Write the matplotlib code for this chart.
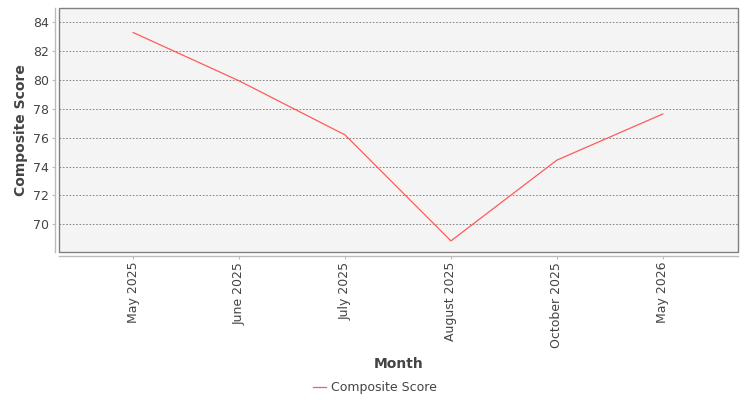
import matplotlib
matplotlib.use('Agg')
from matplotlib import pyplot as plt
from matplotlib.patches import Rectangle

months = ['May 2025', 'June 2025', 'July 2025', 'August 2025', 'October 2025', 'May 2026']
scores = [83.3, 79.95, 76.2, 68.85, 74.45, 77.65]
y_ticks = [70, 72, 74, 76, 78, 80, 82, 84]

plt.rcParams['font.family'] = 'DejaVu Sans'

fig = plt.figure(figsize=(7.5, 4), dpi=100)
ax = fig.add_axes([59 / 750, 1 - 252 / 400, 679 / 750, 244 / 400])
ax.set_facecolor('#f4f4f4')

x = list(range(len(months)))
ax.plot(x, scores, color='#ff5b5b', linewidth=0.9, label='Composite Score')

ax.set_xlim(-0.70, len(months) - 1 + 0.71)
ax.set_ylim(68.08, 85.0)

ax.set_yticks(y_ticks)
ax.set_xticks(x, months)
ax.yaxis.grid(True, linestyle=(0, (2, 2)), color='#777777', linewidth=0.6)
ax.set_axisbelow(True)

# plot outline
ax.add_patch(Rectangle((0, 0), 1, 1, transform=ax.transAxes, fill=False,
                       edgecolor='#808080', linewidth=1.0, zorder=5, clip_on=False))

for side in ['top', 'right']:
    ax.spines[side].set_visible(False)
for side in ['left', 'bottom']:
    ax.spines[side].set_position(('outward', 3))
    ax.spines[side].set_color('#bbbbbb')
    ax.spines[side].set_linewidth(1.0)

ax.tick_params(axis='both', colors='#bbbbbb', length=2, width=0.8,
               labelcolor='#444444', labelsize=9)
ax.tick_params(axis='y', pad=2)
ax.tick_params(axis='x', pad=2, labelrotation=90)

ax.set_ylabel('Composite Score', fontsize=10, fontweight='bold', color='#444444', labelpad=4)
ax.set_xlabel('Month', fontsize=10, fontweight='bold', color='#444444', labelpad=6.5)

fig.legend(handles=ax.get_lines(), loc='center', bbox_to_anchor=(0.5, 1 - 387.5 / 400),
           frameon=False, fontsize=9, labelcolor='#444444',
           handlelength=1.1, handletextpad=0.4)

fig.savefig('out.png', dpi=100, facecolor='white')
